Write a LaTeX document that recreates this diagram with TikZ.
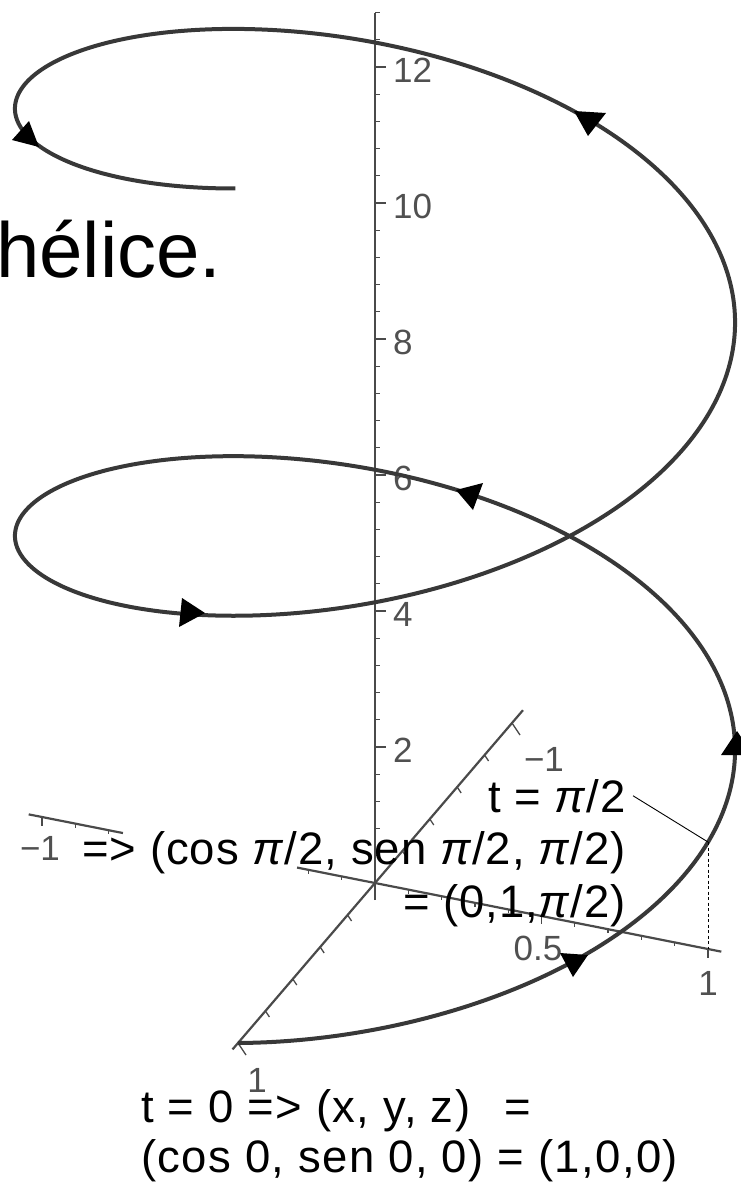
\documentclass[tikz,border=0pt]{standalone}
\usepackage{fontspec}
\setmainfont{Liberation Sans}
\newfontfamily\axfont{Liberation Sans}
\definecolor{helixc}{HTML}{383838}
\definecolor{axisc}{HTML}{4A4A4A}
\definecolor{labc}{HTML}{505050}
\begin{document}
\begin{tikzpicture}[x=1pt,y=-1pt,
  helix/.style={line width=4pt, color=helixc, line join=round},
  axisline/.style={line width=2.2pt, color=axisc},
  tickmark/.style={line width=1.3pt, color=axisc},
  arrowhead/.style={fill=black, draw=none},
  axlabel/.style={font={\axfont\fontsize{35}{35}\selectfont}, text=labc, inner sep=0pt},
  txt/.style={font={\fontsize{45.5}{50}\selectfont\addfontfeature{LetterSpace=3.0}}, inner sep=0pt, text=black},
  midtxt/.style={font={\fontsize{45.5}{50}\selectfont\addfontfeature{LetterSpace=2.2}}, inner sep=0pt, text=black},
]
\useasboundingbox (0,0) rectangle (741,1184);

% axes
\coordinate (O) at (375,883);
\coordinate (Xp) at ({375-137*1.04},{883+160*1.04});
\coordinate (Xm) at ({375+137*1.08},{883-160*1.08});
\coordinate (Ym) at ({375-333*1.04},{883-66*1.04});
\coordinate (YgA) at ({375-333*0.757},{883-66*0.757});
\coordinate (YgB) at ({375-333*0.234},{883-66*0.234});
\coordinate (Yp) at ({375+333*1.04},{883+66*1.04});
\coordinate (Zb) at (375,900);
\coordinate (Zt) at (375,13);
\draw[axisline] (Xp) -- (Xm);
\draw[axisline] (Ym) -- (YgA);
\draw[axisline] (YgB) -- (Yp);
\draw[axisline] (Zb) -- (Zt);

% z ticks
\foreach \k in {1,...,32}{
  \pgfmathtruncatemacro\md{mod(\k,5)}
  \ifnum\md=0 \def\tl{11}\else\def\tl{5}\fi
  \draw[tickmark] (375,{883-27.2*\k}) -- ++(\tl,0);
}
% x ticks
\foreach \k in {-5,...,5}{
  \ifnum\k=0 \else
  \pgfmathtruncatemacro\ak{abs(\k)}
  \ifnum\ak=5 \def\tx{8}\def\ty{12}\else\def\tx{4}\def\ty{6}\fi
  \draw[tickmark] ({375-27.4*\k},{883+32*\k}) -- ++(\tx,\ty);
  \fi
}
% y ticks (those hidden behind the text are left out)
\foreach \k in {-10,-9,-8,-2,-1,1,2,3,4,5,6,7,8,9,10}{
  \pgfmathtruncatemacro\ak{abs(\k)}
  \ifnum\ak=10 \def\tl{9}\else\ifnum\ak=5 \def\tl{8}\else\def\tl{4}\fi\fi
  \draw[tickmark] ({375+33.3*\k},{883+6.6*\k}) -- ++(0,\tl);
}

% axis labels
\foreach \z in {2,4,...,12}{
  \node[axlabel, anchor=west] (zl\z) at (393,{883-68*\z+3}) {\z};
}
\node[axlabel] (xone) at (257,1080) {1};
\node[axlabel] (xmone) at (544,759) {−1};
\node[axlabel] (ymone) at (40,848) {−1};
\node[axlabel] (yhalf) at (538,948) {0.5};
\node[axlabel] (yone) at (708,983) {1};

% helix
\draw[helix] plot[domain=0:12.566, samples=600, variable=\t]
  ({375-137*cos(\t r)+333*sin(\t r)},{883+160*cos(\t r)+66*sin(\t r)-68*\t});

% arrowheads
\fill[arrowhead] (560,953) -- (588,955) -- (573,977) -- cycle;
\fill[arrowhead] (737,731) -- (721,755) -- (753,755) -- cycle;
\fill[arrowhead] (456,490) -- (483,483) -- (473,510) -- cycle;
\fill[arrowhead] (182,598) -- (205,613) -- (179,627) -- cycle;
\fill[arrowhead] (29,121) -- (12,140) -- (39,147) -- cycle;
\fill[arrowhead] (574,111) -- (606,113) -- (588,136) -- cycle;

% annotation of t = pi/2
\coordinate (P) at (708,842);
\coordinate (Y1) at (708,949);
\draw[line width=0.8pt, dash pattern=on 3pt off 2.5pt] (P) -- (Y1);

\node[midtxt, anchor=base east] (tpi) at (626,812) {t = \textit{π}/2};
\node[midtxt, anchor=base east] (cpi) at (626,864) {=> (cos \textit{π}/2, sen \textit{π}/2, \textit{π}/2)};
\node[midtxt, anchor=base east] (res) at (626,917) {= (0,1,\textit{π}/2)};
\draw[line width=0.9pt] ([xshift=7pt]tpi.east) -- (P);

\node[txt, anchor=base west] (tzero) at (141,1122) {t = 0 => (x, y, z)\ \ \hspace{6pt}=};
\node[txt, anchor=base west] (czero) at (141,1172) {(cos 0, sen 0, 0) = (1,0,0)};

\node[font={\fontsize{78}{78}\selectfont}, anchor=base west, inner sep=0pt] (hel) at (-4,277) {hélice.};
\end{tikzpicture}
\end{document}
